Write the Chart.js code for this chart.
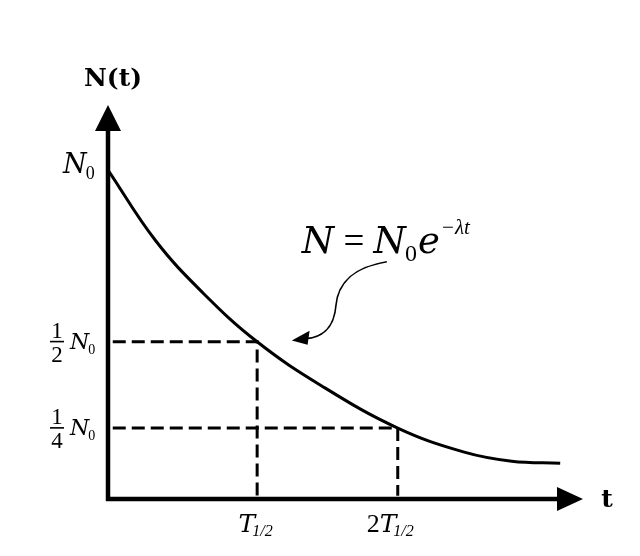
<!DOCTYPE html>
<html>
<head>
<meta charset="utf-8">
<script src="https://cdn.jsdelivr.net/npm/chart.js@4/dist/chart.umd.min.js"></script>
<style>
  html, body { margin: 0; padding: 0; background: #fff; }
  canvas { display: block; }
</style>
</head>
<body>
<canvas id="grafico" width="640" height="556"></canvas>
<script>
// Dados (unidades arbitrárias, 0-100 nos dois eixos)
const tempo   = [0, 10, 20, 31.4, 45, 61, 75, 85, 95.2];
const nucleos = [83.5, 65.6, 52.3, 39.9, 28.7, 18.0, 11.9, 9.6, 9.1];

// Marcas de meia-vida
const tMeia = 31.4;
const tDupla = 61.0;
const nInicial = 83.5;
const nMeio = 39.9;
const nQuarto = 18.0;

const serif = '"Liberation Serif", "Times New Roman", serif';
const mat = '"DejaVu Serif", serif';

// Função para escrever texto e devolver a largura
function escreve(ctx, s, x, y, font, align) {
  ctx.font = font;
  ctx.textAlign = align || 'left';
  ctx.textBaseline = 'alphabetic';
  ctx.fillText(s, x, y);
  return ctx.measureText(s).width;
}

// N com índice 0
function escreveN0(ctx, x, y, tam) {
  let w = escreve(ctx, 'N', x, y, 'italic ' + tam + 'px ' + mat);
  w += escreve(ctx, '0', x + w - 1, y + tam * 0.22, Math.round(tam * 0.65) + 'px ' + serif);
  return w;
}

// Fração empilhada seguida de N0
function escreveFracao(ctx, den, xc, yLinha) {
  escreve(ctx, '1', xc, yLinha - 4, '23px ' + serif, 'center');
  ctx.fillRect(xc - 7, yLinha - 1, 14, 1.6);
  escreve(ctx, den, xc, yLinha + 20, '23px ' + serif, 'center');
  escreveN0(ctx, xc + 13, yLinha + 7, 22);
}

// T com índice 1/2, centrado
function escreveT(ctx, prefixo, xc, y) {
  ctx.font = '26px ' + serif;
  const wp = prefixo ? ctx.measureText(prefixo).width : 0;
  ctx.font = 'italic 25px ' + mat;
  const wt = ctx.measureText('T').width;
  ctx.font = 'italic 16px ' + serif;
  const ws = ctx.measureText('1/2').width;
  let x = xc - (wp + wt + ws) / 2;
  if (prefixo) x += escreve(ctx, prefixo, x, y, '26px ' + serif);
  x += escreve(ctx, 'T', x, y, 'italic 25px ' + mat);
  escreve(ctx, '1/2', x - 3, y + 4, 'italic 16px ' + serif);
}

const anotacoes = {
  id: 'anotacoes',
  afterDraw(chart) {
    const { ctx, chartArea: a, scales } = chart;
    const P = (u, v) => [scales.x.getPixelForValue(u), scales.y.getPixelForValue(v)];
    const x0 = a.left, y0 = a.bottom;
    ctx.save();
    ctx.fillStyle = '#000';
    ctx.strokeStyle = '#000';

    // Eixos com setas
    ctx.lineWidth = 4.5;
    ctx.beginPath();
    ctx.moveTo(x0, y0 + 2);
    ctx.lineTo(x0, a.top + 24);
    ctx.moveTo(x0 - 2, y0);
    ctx.lineTo(a.right - 24, y0);
    ctx.stroke();
    ctx.beginPath();
    ctx.moveTo(x0, a.top);
    ctx.lineTo(x0 - 13, a.top + 26);
    ctx.lineTo(x0 + 13, a.top + 26);
    ctx.closePath();
    ctx.moveTo(a.right, y0);
    ctx.lineTo(a.right - 26, y0 - 12);
    ctx.lineTo(a.right - 26, y0 + 12);
    ctx.closePath();
    ctx.fill();

    // Nomes dos eixos
    escreve(ctx, 'N(t)', x0 + 5, a.top - 19, 'bold 25px ' + mat, 'center');
    escreve(ctx, 't', a.right + 24, y0 + 8, 'bold 25px ' + mat, 'center');

    // Rótulos do eixo vertical
    escreveN0(ctx, x0 - 45, P(0, nInicial)[1] + 3, 27);
    escreveFracao(ctx, '2', x0 - 51, P(0, nMeio)[1]);
    escreveFracao(ctx, '4', x0 - 51, P(0, nQuarto)[1]);

    // Rótulos do eixo horizontal
    escreveT(ctx, '', P(tMeia, 0)[0], y0 + 33);
    escreveT(ctx, '2', P(tDupla, 0)[0] - 6, y0 + 33);

    // Fórmula
    const [fx, fy] = P(40.8, 62.4);
    let x = fx;
    x += escreve(ctx, 'N', x, fy, 'italic 37px ' + mat);
    x += escreve(ctx, ' = ', x, fy, '37px ' + serif);
    x += escreveN0(ctx, x, fy, 37);
    x += escreve(ctx, 'e', x, fy, 'italic 37px ' + mat);
    escreve(ctx, '\u2212\u03bbt', x + 1, fy - 19, 'italic 21px ' + serif);

    // Seta curva apontando para a curva
    const s = P(58.7, 60.2), c1 = P(50.9, 58.6), c2 = P(48.4, 54.3), m = P(48.0, 49.2);
    const c3 = P(47.6, 42.9), c4 = P(44.6, 40.9), e = P(41.6, 40.7), tip = P(38.7, 40.2);
    ctx.lineWidth = 1.6;
    ctx.beginPath();
    ctx.moveTo(s[0], s[1]);
    ctx.bezierCurveTo(c1[0], c1[1], c2[0], c2[1], m[0], m[1]);
    ctx.bezierCurveTo(c3[0], c3[1], c4[0], c4[1], e[0], e[1]);
    ctx.stroke();
    ctx.beginPath();
    ctx.moveTo(tip[0], tip[1]);
    ctx.lineTo(e[0] + 4, e[1] - 8);
    ctx.lineTo(e[0] + 2, e[1] + 6);
    ctx.closePath();
    ctx.fill();
    ctx.restore();
  }
};

const pontos = tempo.map((t, i) => ({ x: t, y: nucleos[i] }));
const tracejado = { borderColor: '#000', borderWidth: 3, borderDash: [13, 6], pointRadius: 0, fill: false, tension: 0 };

new Chart(document.getElementById('grafico'), {
  type: 'line',
  data: {
    datasets: [
      {
        data: pontos,
        borderColor: '#000',
        borderWidth: 3,
        pointRadius: 0,
        fill: false,
        tension: 0.4
      },
      Object.assign({ data: [{ x: 1, y: nMeio }, { x: tMeia, y: nMeio }, { x: tMeia, y: 0.8 }] }, tracejado),
      Object.assign({ data: [{ x: 1, y: nQuarto }, { x: tDupla, y: nQuarto }, { x: tDupla, y: 0.8 }] }, tracejado)
    ]
  },
  options: {
    responsive: false,
    animation: false,
    layout: { padding: { left: 108, right: 57, top: 105, bottom: 57 } },
    scales: {
      x: { type: 'linear', min: 0, max: 100, display: false },
      y: { min: 0, max: 100, display: false }
    },
    plugins: { legend: { display: false }, tooltip: { enabled: false } }
  },
  plugins: [anotacoes]
});
</script>
</body>
</html>
